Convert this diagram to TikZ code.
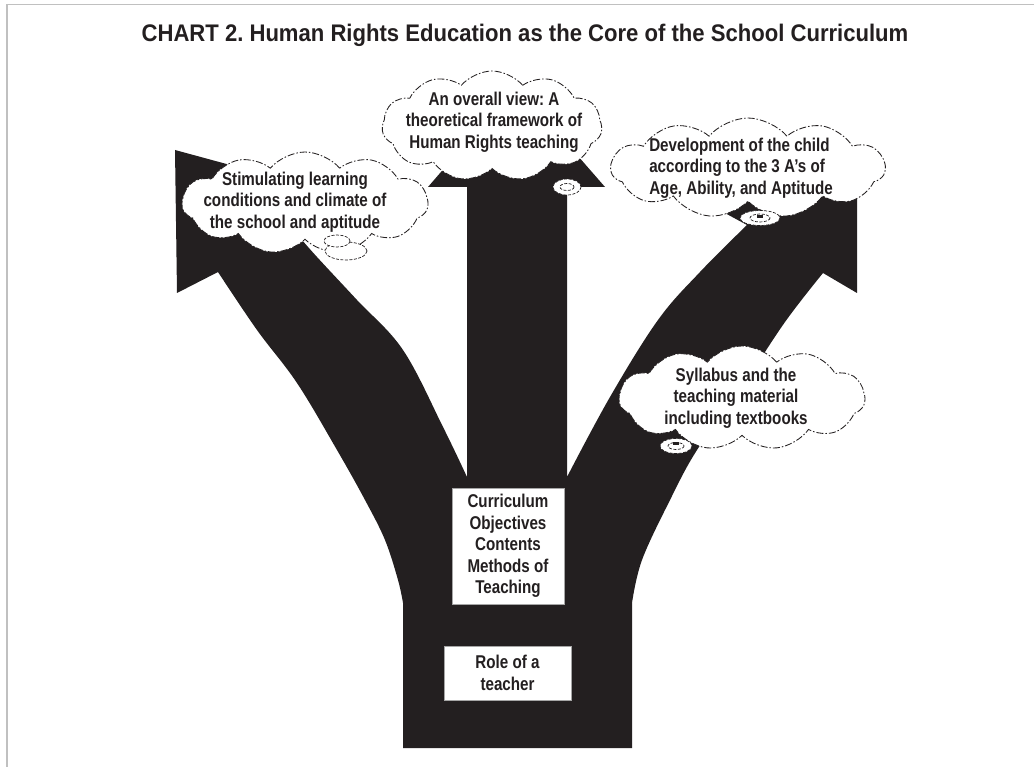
\documentclass[tikz,border=0pt]{standalone}
\usepackage{fontspec}
\setmainfont{Liberation Sans}[FakeStretch=0.82]
\newfontfamily\headfont{Liberation Sans}[FakeStretch=0.92]
\usetikzlibrary{shapes.symbols}
\definecolor{ink}{RGB}{35,31,32}
\definecolor{framegray}{RGB}{192,192,192}
\frenchspacing
\begin{document}
\begin{tikzpicture}[x=1pt,y=-1pt,
  puff/.style={cloud, cloud puffs=11, cloud puff arc=100, cloud ignores aspect,
    draw=ink, line width=0.85pt, dash pattern=on 7pt off 2pt on 1.5pt off 2pt,
    fill=white, inner sep=0pt},
  bubble/.style={draw=ink, line width=0.7pt, dash pattern=on 3pt off 1.5pt, fill=white},
  label/.style={font=\bfseries\fontsize{18.5}{21.5}\selectfont, align=center, text=ink, inner sep=0pt},
  boxed/.style={draw=gray!70, fill=white, line width=0.6pt, inner sep=0pt},
  heading/.style={font=\headfont\bfseries\fontsize{24}{28}\selectfont, text=ink, inner sep=0pt}]
\useasboundingbox (0,0) rectangle (1034,767);
\fill[white] (0,0) rectangle (1034,767);

% frame
\draw[framegray, line width=1.5pt] (7,767) -- (7,4.5) -- (1034,4.5);

% title
\node[heading, anchor=base] (title) at (525,42)
  {CHART 2. Human Rights Education as the Core of the School Curriculum};

% the three-armed arrow body
\fill[ink] (403,748) -- (632,748) -- (632,603)
  -- plot[smooth, tension=0.6] coordinates {(632,603) (642,560) (670,500) (697,450) (740,390) (785,322) (823,273)}
  -- (857,293) -- (857,172) -- (675,186) -- (747,225)
  -- plot[smooth, tension=0.6] coordinates {(747,225) (700,272) (658,320) (610,397) (567,477)}
  -- (567,187) -- (605,187) -- (516,85) -- (428,187) -- (467,187) -- (467,477)
  -- plot[smooth, tension=0.6] coordinates {(467,477) (443,427) (403,350) (357,300) (317,257) (295,232)}
  -- (359,200) -- (175,150) -- (177,293) -- (218,272)
  -- plot[smooth, tension=0.6] coordinates {(218,272) (257,330) (297,383) (337,450) (365,500) (385,540) (398,580) (403,603)}
  -- cycle;

% thought clouds
\node[puff, minimum width=220, minimum height=110] (c1) at (492,126) {};
\node[puff, minimum width=246, minimum height=102] (c2) at (305,203) {};
\node[puff, minimum width=274, minimum height=100] (c3) at (748,168) {};
\node[puff, minimum width=246, minimum height=104] (c4) at (742,398) {};

% small bubbles under the clouds
\draw[bubble] (567,187) ellipse (14 and 8);
\draw[bubble] (567,187) ellipse (7 and 3.5);
\draw[bubble] (346,251) ellipse (21 and 9);
\draw[bubble] (337,241) ellipse (13 and 6);
\draw[bubble] (760,218) ellipse (20 and 7.5);
\draw[bubble] (760,218) ellipse (10 and 4);
\fill[ink] (757,215) rectangle (763,218);
\draw[bubble] (676,446) ellipse (16 and 7.5);
\draw[bubble] (676,446) ellipse (8 and 3.5);
\fill[ink] (673,442) rectangle (679,445);

% cloud texts
\node[label] (t1) at (494,122) {An overall view: A\\theoretical framework of\\Human Rights teaching};
\node[label] (t2) at (295,202) {Stimulating learning\\conditions and climate of\\the school and aptitude};
\node[label, align=left] (t3) at (741,168) {Development of the child\\according to the 3 A’s of\\Age, Ability, and Aptitude};
\node[label] (t4) at (736,398) {Syllabus and the\\teaching material\\including textbooks};

% boxes on the trunk
\node[boxed, label, minimum width=112, minimum height=116] (curr) at (508,546)
  {Curriculum\\Objectives\\Contents\\Methods of\\Teaching};
\node[boxed, label, minimum width=127, minimum height=54] (role) at (507.5,673)
  {Role of a\\teacher};
\end{tikzpicture}
\end{document}
